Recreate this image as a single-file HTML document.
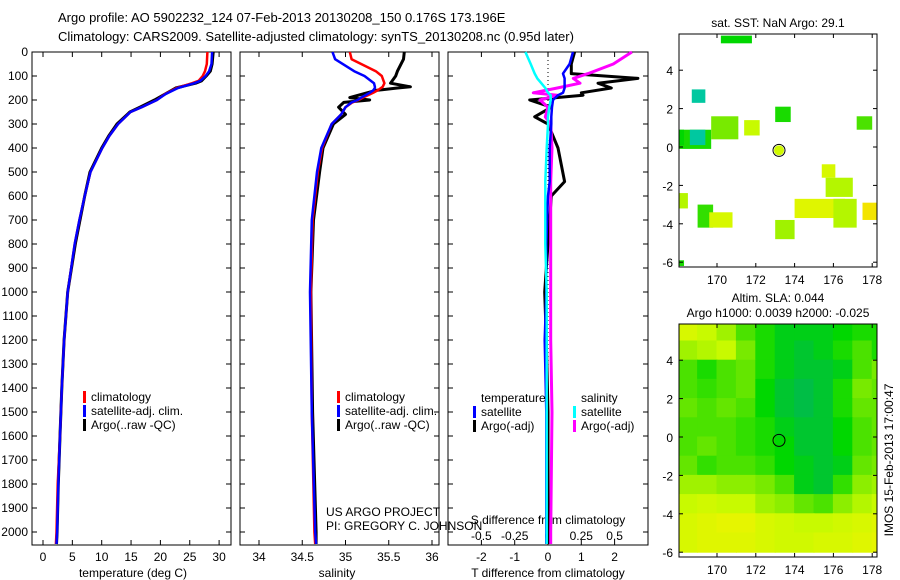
<!DOCTYPE html>
<html><head><meta charset="utf-8">
<style>
body{margin:0;background:#fff;}
svg{display:block;font-family:"Liberation Sans",sans-serif;font-size:12px;}
</style></head>
<body>
<svg id="fig" width="900" height="580" viewBox="0 0 900 580" xmlns="http://www.w3.org/2000/svg">
<rect width="900" height="580" fill="#fff"/>
<text x="58" y="22" font-size="13">Argo profile: AO 5902232_124 07-Feb-2013 20130208_150 0.176S 173.196E</text>
<text x="58" y="41" font-size="13">Climatology: CARS2009. Satellite-adjusted climatology: synTS_20130208.nc (0.95d later)</text>
<g id="g"></g>
</svg>
<script>
// ---- data ----
const depthT = [0,50,80,100,120,130,150,175,200,230,250,300,350,400,500,600,700,800,1000,1200,1400,1600,1800,2000,2050];
const tArgo  = [29.0,28.8,28.5,27.8,27.0,26.0,22.6,20.8,19.0,16.5,14.8,12.6,11.2,10.0,8.0,7.1,6.3,5.5,4.2,3.6,3.2,2.9,2.6,2.4,2.3];
const tClim  = [28.0,27.9,27.6,27.2,26.5,25.4,22.8,20.8,19.4,16.8,14.9,12.8,11.3,10.1,8.1,7.1,6.2,5.4,4.2,3.6,3.2,2.9,2.5,2.3,2.2];
const tSat   = [28.8,28.7,28.3,27.7,26.8,25.8,23.0,20.9,19.4,16.8,14.9,12.8,11.3,10.1,8.1,7.1,6.2,5.4,4.2,3.6,3.2,2.9,2.6,2.4,2.3];
const depthS = [0,30,80,100,130,145,150,160,170,190,200,210,230,260,300,400,500,700,1000,1500,2000,2050];
const sArgo  = [35.68,35.67,35.6,35.58,35.52,35.75,35.6,35.35,35.25,35.05,35.28,34.98,34.92,35.0,34.86,34.74,34.7,34.63,34.6,34.62,34.66,34.66];
const sClim  = [35.05,35.07,35.35,35.42,35.45,35.43,35.41,35.37,35.32,35.2,35.15,35.08,35.0,34.95,34.84,34.73,34.68,34.62,34.6,34.61,34.64,34.65];
const sSat   = [34.85,34.88,35.1,35.22,35.33,35.34,35.34,35.32,35.28,35.18,35.14,35.07,35.0,34.95,34.84,34.72,34.67,34.61,34.59,34.61,34.65,34.66];
const depthD = [0,50,90,110,130,150,170,180,200,230,270,300,400,540,600,800,1000,1200,1500,2000,2050];
const dTsat  = [0.75,0.65,0.45,0.5,0.5,0.5,0.45,0.3,0.15,0.12,0.1,0.1,0.05,0.05,0.0,-0.05,-0.05,-0.1,-0.05,-0.05,-0.05];
const dTargo = [0.8,0.7,0.7,2.7,1.5,1.9,1.0,1.05,-0.55,0.1,-0.4,0.0,0.3,0.5,0.1,0.0,-0.1,-0.05,0.0,0.0,0.0];
const dSsat  = [-0.17,-0.13,-0.1,-0.08,-0.05,-0.02,0.0,0.02,0.02,0.01,0.0,0.0,-0.01,-0.02,-0.02,-0.02,-0.01,-0.01,-0.01,-0.01,-0.01];
const dSargo = [0.63,0.49,0.3,0.19,0.24,0.07,-0.11,0.07,-0.06,0.0,-0.02,0.02,0.03,0.02,0.02,0.02,0.02,0.02,0.03,0.02,0.02];
const depthTicks = [0,100,200,300,400,500,600,700,800,900,1000,1100,1200,1300,1400,1500,1600,1700,1800,1900,2000];
const tTicks = [0,5,10,15,20,25,30];
const sTicks = [34,34.5,35,35.5,36];
const dTTicks = [-2,-1,0,1,2];
const dSTicks = [-0.5,-0.25,0,0.25,0.5];
const lonTicks = [170,172,174,176,178];
const latTicks = [4,2,0,-2,-4,-6];
// SLA grid, rows lat 5.5 .. -5.5, cols lon 168.5 .. 179.5 (0 = green, 1 = yellow)
const slaGrid = [
[0.7,0.6,0.5,0.3,0.2,0.1,0.1,0.1,0.15,0.2,0.2,0.2],
[0.5,0.55,0.6,0.4,0.2,0.1,0.05,0.1,0.2,0.3,0.2,0.3],
[0.3,0.2,0.3,0.35,0.2,0.1,0.05,0.05,0.1,0.3,0.4,0.35],
[0.3,0.25,0.3,0.35,0.15,0.05,0,0.05,0.2,0.4,0.35,0.3],
[0.35,0.3,0.35,0.3,0.15,0.05,0,0.05,0.2,0.35,0.35,0.35],
[0.3,0.3,0.3,0.25,0.2,0.1,0.05,0.05,0.15,0.3,0.35,0.35],
[0.3,0.35,0.3,0.25,0.2,0.15,0.05,0.05,0.15,0.3,0.35,0.4],
[0.35,0.25,0.3,0.3,0.25,0.15,0.1,0.05,0.1,0.35,0.4,0.45],
[0.5,0.5,0.45,0.45,0.4,0.3,0.1,0.05,0.25,0.45,0.5,0.5],
[0.6,0.65,0.6,0.6,0.5,0.45,0.35,0.3,0.45,0.55,0.6,0.65],
[0.7,0.75,0.8,0.8,0.7,0.65,0.6,0.6,0.65,0.7,0.75,0.85],
[0.7,0.75,0.75,0.75,0.7,0.65,0.65,0.7,0.7,0.75,0.8,0.8]];
// SST patches: lon0, lat0(top), lon width, lat height, value
const sstLon = [170.2,168.7,168.0,169.7,168.0,171.4,173.0,177.2,175.4,175.6,174.0,176.0,177.5,169.0,169.6,173.0,168.0,168.0,168.6];
const sstLat = [5.8,3.0,0.9,1.6,0.9,1.4,2.1,1.6,-0.9,-1.6,-2.7,-2.7,-2.9,-3.0,-3.4,-3.8,-2.4,-5.9,0.9];
const sstW   = [1.6,0.7,1.7,1.4,0.3,0.8,0.8,0.8,0.7,1.4,2.6,1.2,0.8,0.8,1.2,1.0,0.5,0.3,0.8];
const sstH   = [0.4,0.7,1.0,1.2,0.8,0.8,0.8,0.7,0.7,1.0,1.0,1.5,0.9,1.2,0.8,1.0,0.8,0.3,0.8];
const sstV   = [0.15,-0.3,0.2,0.4,0.15,0.6,0.2,0.3,0.7,0.55,0.75,0.55,0.9,0.25,0.7,0.5,0.55,0.2,-0.3];

// ---- helpers ----
const NS='http://www.w3.org/2000/svg';
const G=document.getElementById('g');
function mk(tag,attrs,parent){const e=document.createElementNS(NS,tag);for(const k in attrs)e.setAttribute(k,attrs[k]);(parent||G).appendChild(e);return e;}
function txt(x,y,s,anchor,parent,size){const e=mk('text',{x:x,y:y,'text-anchor':anchor||'start','font-size':size||12},parent);e.textContent=s;return e;}
const y0=52, yPer=0.24, yBot=545;
const yD=d=>y0+d*yPer;
const xT=t=>43+5.87*t;
const xS=s=>259+86.5*(s-34);
const xDT=v=>548+33.3*v;
const xDS=v=>548+133.2*v;

function panel(x1,x2,name){
  const r=mk('rect',{x:x1,y:y0,width:x2-x1,height:yBot-y0,fill:'none',stroke:'#000','stroke-width':1});
  
  
  depthTicks.forEach(d=>{mk('line',{x1:x1,x2:x1+5,y1:yD(d),y2:yD(d),stroke:'#000'});mk('line',{x1:x2-5,x2:x2,y1:yD(d),y2:yD(d),stroke:'#000'});});
}
function xticks(vals,fx,labelY,parent){
  vals.forEach(v=>{const x=fx(v);mk('line',{x1:x,x2:x,y1:y0,y2:y0+5,stroke:'#000'});mk('line',{x1:x,x2:x,y1:yBot-5,y2:yBot,stroke:'#000'});
    const t=txt(x,labelY,String(v),'middle',parent);});
}
function line(depths,vals,fx,color,w,name){
  const pts=depths.map((d,i)=>fx(vals[i]).toFixed(1)+','+yD(d).toFixed(1)).join(' ');
  const p=mk('polyline',{points:pts,fill:'none',stroke:color,'stroke-width':w,'stroke-linejoin':'round'});
  
  
}
function legend(x,y,items){
  items.forEach((it,i)=>{mk('rect',{x:x,y:y+i*14-10,width:3,height:12,fill:it[0]});
    const t=txt(x+8,y+i*14,it[1]);});
}

// panel 1
panel(32,231,'temperature-panel');
depthTicks.forEach(d=>{const t=txt(28,yD(d)+4,String(d),'end');});
xticks(tTicks,xT,561);
line(depthT,tArgo,xT,'#000',3,'temp-argo-line');
line(depthT,tClim,xT,'#f00',2.5,'temp-climatology-line');
line(depthT,tSat,xT,'#00f',2.5,'temp-satellite-line');
let t=txt(133,577,'temperature (deg C)','middle');
legend(83,401,[['#f00','climatology'],['#00f','satellite-adj. clim.'],['#000','Argo(..raw -QC)']]);

// panel 2
panel(240,439,'salinity-panel');
xticks(sTicks,xS,561);
line(depthS,sArgo,xS,'#000',3,'salinity-argo-line');
line(depthS,sClim,xS,'#f00',2.5,'salinity-climatology-line');
line(depthS,sSat,xS,'#00f',2.5,'salinity-satellite-line');
t=txt(337,577,'salinity','middle');
legend(337,401,[['#f00','climatology'],['#00f','satellite-adj. clim.'],['#000','Argo(..raw -QC)']]);
t=txt(326,516,'US ARGO PROJECT');
t=txt(326,530,'PI: GREGORY C. JOHNSON');

// panel 3
panel(448,648,'difference-panel');
mk('line',{x1:548,x2:548,y1:y0,y2:yBot,stroke:'#000','stroke-dasharray':'1,3'});
xticks(dTTicks,xDT,561);
dSTicks.forEach(v=>{const tt=txt(xDS(v),540,String(v),'middle');});
t=txt(548,524,'S difference from climatology','middle');
line(depthD,dTargo,xDT,'#000',3,'tdiff-argo-line');
line(depthD,dSargo,xDS,'#f0f',3,'sdiff-argo-line');
line(depthD,dTsat,xDT,'#00f',2.5,'tdiff-satellite-line');
line(depthD,dSsat,xDS,'#0ff',2.5,'sdiff-satellite-line');
t=txt(548,577,'T difference from climatology','middle');
t=txt(481,402,'temperature');
t=txt(581,402,'salinity');
legend(473,416,[['#00f','satellite'],['#000','Argo(-adj)']]);
legend(573,416,[['#0ff','satellite'],['#f0f','Argo(-adj)']]);

// maps
function cmap(v){
  const stops=[[-0.3,[0,200,160]],[0,[0,190,70]],[0.15,[0,215,0]],[0.35,[100,230,0]],[0.6,[200,250,0]],[0.8,[230,245,0]],[1,[255,210,0]]];
  if(v<=stops[0][0])return 'rgb(0,200,160)';
  for(let i=1;i<stops.length;i++){if(v<=stops[i][0]){const a=stops[i-1],b=stops[i];const f=(v-a[0])/(b[0]-a[0]);
    return 'rgb('+a[1].map((c,k)=>Math.round(c+(b[1][k]-c)*f)).join(',')+')';}}
  return 'rgb(255,210,0)';
}
function mapFrame(top,bot,name){
  const xL=lon=>717+19.4*(lon-170);
  const y0m=top+113;
  const yL=lat=>y0m-19.2*lat;
  return {xL,yL,draw(){
    const r=mk('rect',{x:679,y:top,width:198,height:bot-top,fill:'none',stroke:'#000'});
    
    lonTicks.forEach(l=>{mk('line',{x1:xL(l),x2:xL(l),y1:top,y2:top+4,stroke:'#000'});mk('line',{x1:xL(l),x2:xL(l),y1:bot-4,y2:bot,stroke:'#000'});
      const tt=txt(xL(l),bot+17,String(l),'middle');});
    latTicks.forEach(l=>{mk('line',{x1:679,x2:683,y1:yL(l),y2:yL(l),stroke:'#000'});mk('line',{x1:873,x2:877,y1:yL(l),y2:yL(l),stroke:'#000'});
      const tt=txt(673,yL(l)+5,String(l),'end');});
    const c=mk('circle',{cx:xL(173.196),cy:yL(-0.176),r:6,fill:'none',stroke:'#000'});
    
  }};
}
// SST map
const m1=mapFrame(34,267,'sst-map');
const clip1=mk('clipPath',{id:'c1'});mk('rect',{x:679,y:34,width:198,height:233},clip1);
const sg=mk('g',{'clip-path':'url(#c1)'});
sstLon.forEach((lo,i)=>{const r=mk('rect',{x:m1.xL(lo),y:m1.yL(sstLat[i]),width:sstW[i]*19.4,height:sstH[i]*19.2,fill:cmap(sstV[i])},sg);
  });
mk('circle',{cx:m1.xL(173.196),cy:m1.yL(-0.176),r:5,fill:cmap(0.65)});
m1.draw();
t=txt(778,27,'sat. SST: NaN Argo: 29.1','middle');
// SLA map
const m2=mapFrame(324,557,'sla-map');
const clip2=mk('clipPath',{id:'c2'});mk('rect',{x:679,y:324,width:198,height:233},clip2);
const lg=mk('g',{'clip-path':'url(#c2)'});
slaGrid.forEach((row,ri)=>row.forEach((v,ci)=>{
  const r=mk('rect',{x:m2.xL(168+ci)-0.5,y:m2.yL(6-ri)-0.5,width:20.4,height:20.2,fill:cmap(v)},lg);
  }));
m2.draw();
t=txt(778,302,'Altim. SLA: 0.044','middle');
t=txt(778,317,'Argo h1000: 0.0039 h2000: -0.025','middle');
t=txt(0,0,'IMOS 15-Feb-2013 17:00:47','middle');t.setAttribute('transform','translate(893,460) rotate(-90)');

</script>
</body></html>
